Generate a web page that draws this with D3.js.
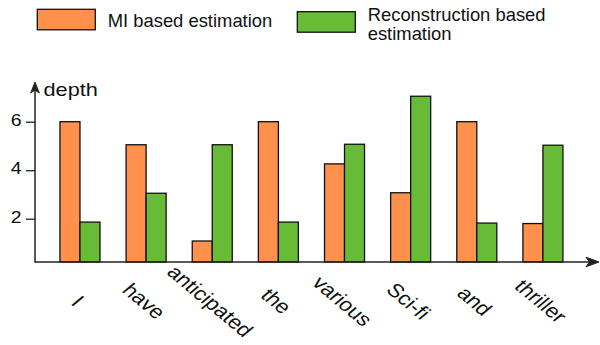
<!DOCTYPE html>
<html><head><meta charset="utf-8">
<script src="https://cdn.jsdelivr.net/npm/d3@7"></script>
<style>
html,body{margin:0;padding:0;background:#fff;}
svg{display:block;font-family:"Liberation Sans",Arial,Helvetica,sans-serif;}
</style>
</head><body>
<svg id="chart" width="600" height="345"></svg>
<script>
// ---- data ----
const categories = ["I", "have", "anticipated", "the", "various", "Sci-fi", "and", "thriller"];
const miValues = [6.0, 5.05, 1.08, 6.0, 4.26, 3.07, 6.0, 1.8];
const reconValues = [1.86, 3.05, 5.05, 1.86, 5.07, 7.05, 1.82, 5.03];
const seriesNames = ["MI based estimation", "Reconstruction based estimation"];
const legendLines = [["MI based estimation"], ["Reconstruction based", "estimation"]];
const yTicks = [2, 4, 6];
const yLabel = "depth";

// ---- styles / layout ----
const colors = ["#FF914C", "#68BB36"];
const ink = "#111";
const axisColor = "#222";
const stretch = 1.18;
const axisX = 35, axisY = 262;

const svg = d3.select("#chart");

const y = d3.scaleLinear().domain([0, 7]).range([267.2, 97.45]);
const x = d3.scaleBand().domain(categories).range([46.9, 576]).paddingInner(0.395).paddingOuter(0.1975);
const xs = d3.scaleBand().domain(seriesNames).range([0, x.bandwidth()]);

const rows = categories.map((c, i) => ({cat: c, vals: [miValues[i], reconValues[i]]}));

// bars
const groups = svg.append("g").selectAll("g").data(rows).join("g")
  .attr("transform", d => `translate(${x(d.cat)},0)`);
groups.selectAll("rect").data(d => d.vals.map((v, k) => ({v, k})))
  .join("rect")
  .attr("x", d => xs(seriesNames[d.k]))
  .attr("width", xs.bandwidth())
  .attr("y", d => y(d.v))
  .attr("height", d => axisY - y(d.v))
  .attr("fill", d => colors[d.k])
  .attr("stroke", ink)
  .attr("stroke-width", 1.3);

// y axis ticks
const yAxis = svg.append("g").attr("transform", `translate(${axisX},0)`)
  .call(d3.axisLeft(y).tickValues(yTicks).tickSize(9).tickFormat(d3.format("d")));
yAxis.select(".domain").remove();
yAxis.selectAll(".tick line").attr("stroke", axisColor).attr("stroke-width", 1.3);
yAxis.selectAll(".tick text")
  .attr("x", null).attr("dy", null)
  .attr("transform", `translate(-13.5,3.4) scale(${stretch},1)`)
  .attr("text-anchor", "end")
  .attr("fill", ink)
  .style("font-size", "16.5px")
  .style("font-family", '"Liberation Sans",Arial,Helvetica,sans-serif');

// axis lines with arrows
svg.append("line").attr("x1", axisX).attr("x2", 590).attr("y1", axisY).attr("y2", axisY)
  .attr("stroke", axisColor).attr("stroke-width", 1.5);
svg.append("path")
  .attr("d", `M599,${axisY} L586,${axisY - 4.8} L589.5,${axisY} L586,${axisY + 4.8} Z`)
  .attr("fill", axisColor).attr("stroke", axisColor).attr("stroke-width", 1);
svg.append("line").attr("x1", axisX).attr("x2", axisX).attr("y1", axisY + 0.75).attr("y2", 88)
  .attr("stroke", axisColor).attr("stroke-width", 1.5);
svg.append("path")
  .attr("d", `M${axisX},82 L${axisX - 4.3},93 L${axisX},90 L${axisX + 4.3},93 Z`)
  .attr("fill", axisColor).attr("stroke", axisColor).attr("stroke-width", 1);

// y label
svg.append("text").text(yLabel)
  .attr("transform", `translate(43.5,95.5) scale(${stretch},1)`)
  .attr("fill", ink).style("font-size", "18.4px");

// category labels
svg.append("g").selectAll("text").data(categories).join("text")
  .text(d => d)
  .attr("transform", d => `translate(${x(d) + x.bandwidth() / 2 - 2},301) scale(1.2,1) rotate(45)`)
  .attr("text-anchor", "middle")
  .attr("dy", "0.35em")
  .attr("fill", ink)
  .style("font-size", "19px");

// legend
const legendX = [37.3, 297.3];
const legendRectY = [9.3, 11.7];
const legendTextY = [26.7, 20.9];
seriesNames.forEach((name, k) => {
  const g = svg.append("g");
  g.append("rect").attr("x", legendX[k]).attr("y", legendRectY[k])
    .attr("width", 58).attr("height", 20.5)
    .attr("fill", colors[k]).attr("stroke", ink).attr("stroke-width", 1.3);
  const t = g.append("text").attr("fill", ink).style("font-size", "18.4px");
  legendLines[k].forEach((line, j) => {
    t.append("tspan").attr("x", legendX[k] + 70.4).attr("y", legendTextY[k] + j * 19.4).text(line);
  });
});
</script>
</body></html>
